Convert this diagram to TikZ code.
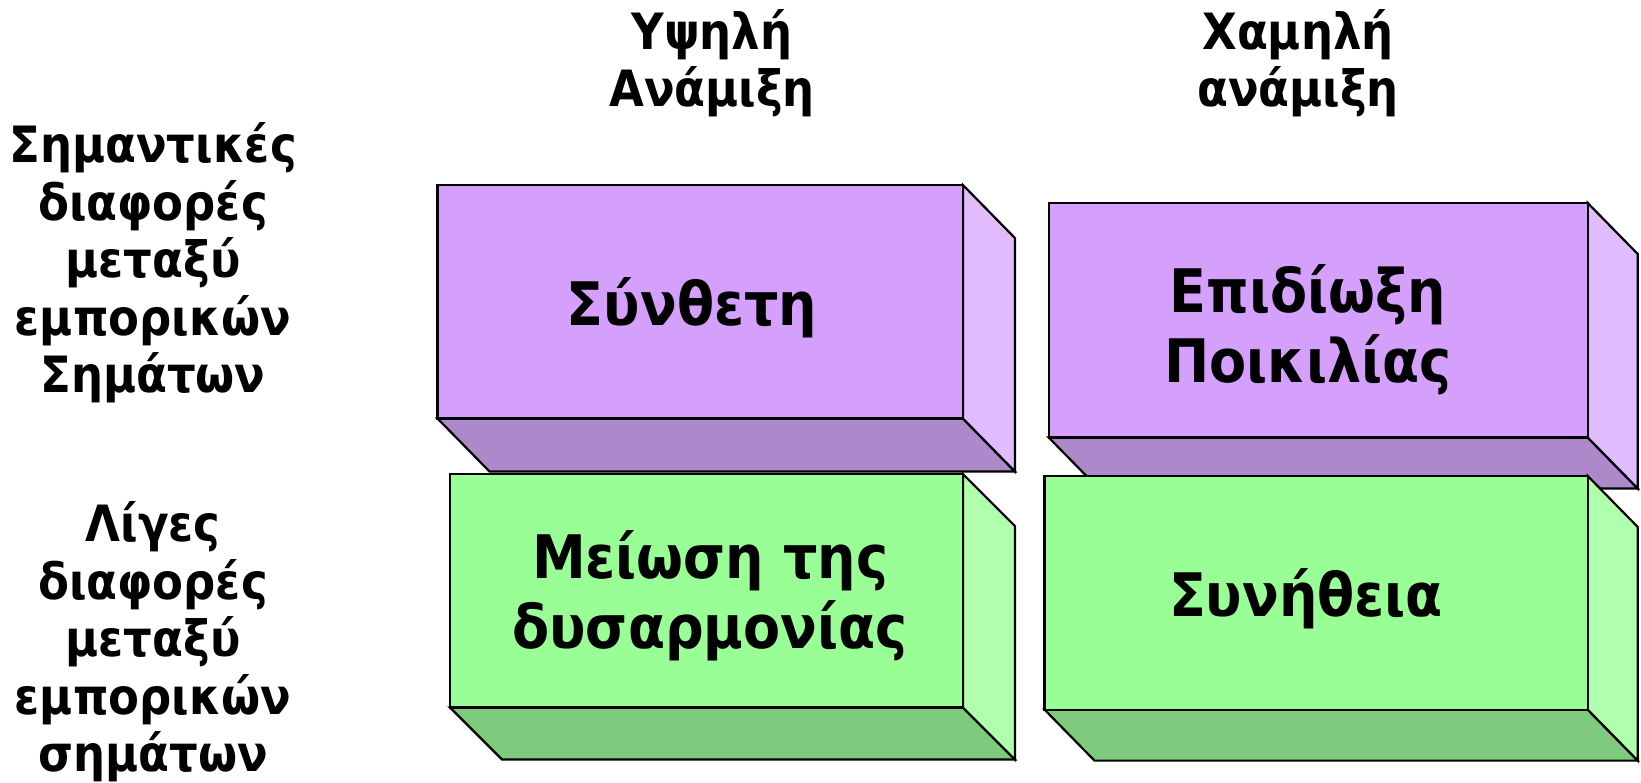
\documentclass[tikz,border=0pt]{standalone}
\usepackage{fontspec}
\newfontfamily\lab{DejaVu Sans Bold}[FakeStretch=0.9]
\definecolor{pfront}{HTML}{D5A0FC}
\definecolor{pside}{HTML}{E0BBFE}
\definecolor{pbottom}{HTML}{AD88CB}
\definecolor{gfront}{HTML}{9AFE96}
\definecolor{gside}{HTML}{B0FFAC}
\definecolor{gbottom}{HTML}{7FCB7D}
\newcommand\cuboid[9]{%
  \filldraw[face,fill=#9] (#1,#4) -- (#1+#5,#4+#6) -- (#3+#5,#4+#6) -- (#3,#4) -- cycle;
  \filldraw[face,fill=#8] (#3,#2) -- (#3+#5,#2+#6) -- (#3+#5,#4+#6) -- (#3,#4) -- cycle;
  \filldraw[face,fill=#7] (#1,#2) rectangle (#3,#4);
}
\begin{document}
\begin{tikzpicture}[x=1pt,y=-1pt,
  face/.style={draw=black,line width=2.2pt,line join=miter},
  hdr/.style={font=\lab\fontsize{50}{57.5}\selectfont,align=center,inner sep=0pt},
  boxtxt/.style={font=\lab\fontsize{60}{70}\selectfont,align=center,inner sep=0pt}]
\useasboundingbox (0,0) rectangle (1641,783);
\cuboid{437.5}{185}{962.9}{418.5}{52}{53}{pfront}{pside}{pbottom}
\cuboid{1048.7}{203}{1587.7}{437.5}{50}{51}{pfront}{pside}{pbottom}
\cuboid{450}{474}{962.9}{707.5}{52}{52}{gfront}{gside}{gbottom}
\cuboid{1044.5}{476}{1587.7}{709.6}{50}{51}{gfront}{gside}{gbottom}
\node[hdr] (h1) at (712,63) {Υψηλή\\Ανάμιξη};
\node[hdr] (h2) at (1298,63) {Χαμηλή\\ανάμιξη};
\node[hdr] (l1) at (153,263) {Σημαντικές\\διαφορές\\μεταξύ\\εμπορικών\\Σημάτων};
\node[hdr] (l2) at (153,642) {Λίγες\\διαφορές\\μεταξύ\\εμπορικών\\σημάτων};
\node[boxtxt] (b1) at (692,308) {Σύνθετη};
\node[boxtxt] (b2) at (1308,330) {Επιδίωξη\\Ποικιλίας};
\node[boxtxt] (b3) at (710,596) {Μείωση της\\δυσαρμονίας};
\node[boxtxt] (b4) at (1306,599) {Συνήθεια};
\end{tikzpicture}
\end{document}
